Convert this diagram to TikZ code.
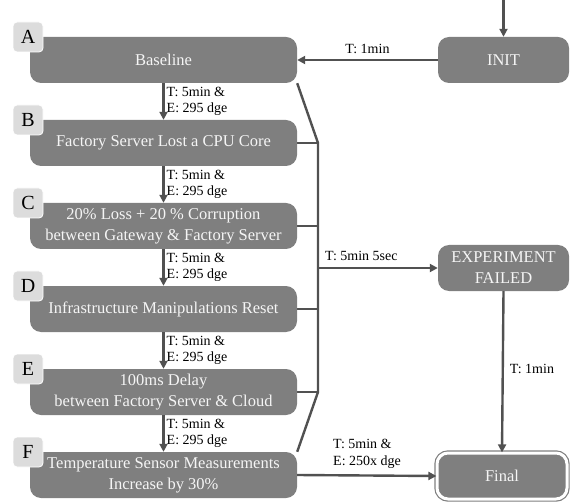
\documentclass[tikz,border=0pt]{standalone}
\usepackage{fontspec}
\setmainfont{Liberation Serif}
\usepackage{tikz}
\usetikzlibrary{arrows.meta, backgrounds, calc}
\definecolor{Box_gray}{rgb}{0.498039, 0.498039, 0.498039}
\definecolor{Tab_gray}{rgb}{0.862745, 0.862745, 0.862745}
\definecolor{Line_gray}{rgb}{0.317647, 0.317647, 0.317647}
\definecolor{Text_white}{rgb}{0.960784, 0.960784, 0.960784}
\tikzset{
  state/.style={rectangle, rounded corners=11pt, fill=Box_gray, text=Text_white, align=center, inner sep=0pt, font=\fontsize{16.5}{21}\selectfont},
  stepbox/.style={state, minimum width=267pt, minimum height=46pt},
  endbox/.style={state, minimum width=131pt, minimum height=46pt},
  tab/.style={rectangle, rounded corners=4pt, fill=Tab_gray, draw=white, line width=0.8pt, minimum size=30pt, inner sep=0pt, font=\fontsize{20}{20}\selectfont},
  flow/.style={draw=Line_gray, line width=2.4pt, -{Triangle[length=8pt, width=8pt]}},
  bus/.style={draw=Line_gray, line width=2.4pt},
  cond/.style={font=\fontsize{14}{16.5}\selectfont, align=left, inner sep=0pt}
}

\begin{document}
\begin{tikzpicture}[x=1pt, y=-1pt]
        \useasboundingbox (0,0) rectangle (572,502);

        % experiment steps
        \node[stepbox] (A) at (163.5,60) {Baseline};
        \node[stepbox] (B) at (163.5,143) {Factory Server Lost a CPU Core};
        \node[stepbox] (C) at (163.5,226) {20\% Loss + 20 \% Corruption\\between Gateway \& Factory Server};
        \node[stepbox] (D) at (163.5,309) {Infrastructure Manipulations Reset};
        \node[stepbox] (E) at (163.5,392) {100ms Delay\\between Factory Server \& Cloud};
        \node[stepbox] (F) at (163.5,475) {Temperature Sensor Measurements\\Increase by 30\%};

        \foreach \s/\y in {A/37, B/120, C/203, D/286, E/369, F/452}
            \node[tab] (tab\s) at (28,\y) {\s};

        % outcome states
        \node[endbox] (init) at (503.5,60) {INIT};
        \node[endbox] (failed) at (503.5,268) {EXPERIMENT\\FAILED};
        \node[endbox, minimum width=130pt, minimum height=46pt, draw=Box_gray, double=white, double distance=3pt, line width=1.2pt] (final) at (502,476) {Final};

        \coordinate (start) at (503.5,0);
        \coordinate (busTop) at (318,143);
        \coordinate (busFail) at (318,268);
        \coordinate (busBot) at (318,392);

        % failure bus
        \begin{scope}[on background layer]
            \draw[bus] (A.south east) -- (busTop) -- (busBot) -- (F.north east);
            \draw[bus] (B.east) -- (busTop);
            \draw[bus] (C.east) -- (C.east -| busTop);
            \draw[bus] (D.east) -- (D.east -| busTop);
            \draw[bus] (E.east) -- (busBot);
        \end{scope}

        % transitions
        \draw[flow] (start) -- (init.north);
        \draw[flow] (init.west) -- (A.east) node[cond, pos=0.5, above=5pt] {T: 1min};
        \foreach \a/\b in {A/B, B/C, C/D, D/E, E/F} {
            \draw[flow] (\a.south) -- (\b.north);
            \node[cond, anchor=west] at ($(\a.south)!0.5!(\b.north) + (3,0)$) {T: 5min \&\\E: 295 dge};
        }
        \draw[flow] (busFail) -- (failed.west) node[cond, pos=0.05, anchor=south west, yshift=6pt] {T: 5min 5sec};
        \draw[flow] (failed.south) -- (final.north) node[cond, pos=0.48, anchor=west, xshift=6pt] {T: 1min};
        \draw[flow] (F.east) -- (final.west) node[cond, pos=0.25, anchor=south west, yshift=6pt] {T: 5min \&\\E: 250x dge};
    \end{tikzpicture}
\end{document}
